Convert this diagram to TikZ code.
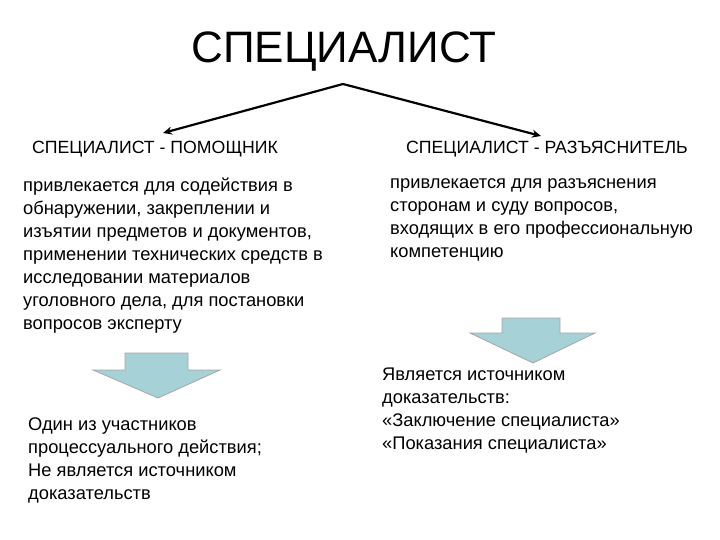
\documentclass[tikz,border=0pt]{standalone}
\usepackage{fontspec}
\usetikzlibrary{arrows.meta}
\setmainfont{Liberation Sans}
\definecolor{arrowfill}{RGB}{166,209,214}
\begin{document}
\begin{tikzpicture}[x=1pt,y=-1pt,
  txt/.style={anchor=north west,align=left,inner sep=0pt,font=\fontsize{18.3}{23}\selectfont},
  head/.style={inner sep=0pt,font=\fontsize{17.7}{20}\selectfont},
  barrow/.style={fill=arrowfill,draw=gray!70,line width=0.8pt},
  link/.style={line width=2.2pt,-{Stealth[length=9pt,width=8pt]}}]
\useasboundingbox (0,0) rectangle (720,540);
\node[inner sep=0pt,font=\fontsize{44}{46}\selectfont] (title) at (344,52) {СПЕЦИАЛИСТ};
\coordinate (apex) at (343,84);
\node[head] (h1) at (155,149) {СПЕЦИАЛИСТ - ПОМОЩНИК};
\node[head] (h2) at (547,149) {СПЕЦИАЛИСТ - РАЗЪЯСНИТЕЛЬ};
\coordinate (t1) at (163,133);
\coordinate (t2) at (541,136);
\draw[link] (apex) -- (t1);
\draw[link] (apex) -- (t2);
\node[txt] (b1) at (23,178) {привлекается для содействия в\\обнаружении, закреплении и\\изъятии предметов и документов,\\применении технических средств в\\исследовании материалов\\уголовного дела, для постановки\\вопросов эксперту};
\node[txt] (b2) at (390,178) {привлекается для разъяснения\\сторонам и суду вопросов,\\входящих в его профессиональную\\компетенцию};
\draw[barrow] (125,353) -- (188,353) -- (188,370) -- (220,370) -- (158,398) -- (93,370) -- (125,370) -- cycle;
\draw[barrow] (502,318) -- (560,318) -- (560,333) -- (595,333) -- (533,363) -- (470,333) -- (502,333) -- cycle;
\node[txt] (b3) at (28,418) {Один из участников\\процессуального действия;\\Не является источником\\доказательств};
\node[txt] (b4) at (382,368) {Является источником\\доказательств:\\«Заключение специалиста»\\«Показания специалиста»};
\end{tikzpicture}
\end{document}
